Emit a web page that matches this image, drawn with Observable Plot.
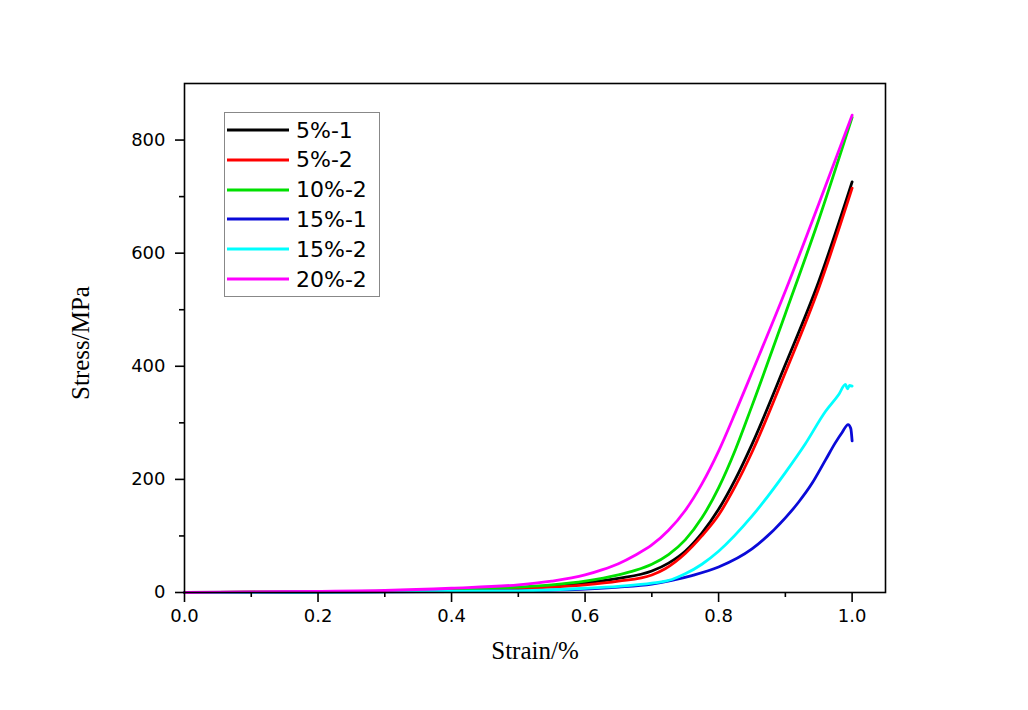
<!DOCTYPE html>
<html><head><meta charset="utf-8">
<script src="https://cdn.jsdelivr.net/npm/d3@7"></script>
<script src="https://cdn.jsdelivr.net/npm/@observablehq/plot@0.6"></script>
<style>
body{margin:0;background:#fff;}
#wrap{position:relative;width:1028px;height:710px;overflow:hidden;}
#legend{position:absolute;left:224px;top:112px;width:156px;height:185px;border:1px solid #888;box-sizing:border-box;background:#fff;font-family:"DejaVu Sans","Liberation Sans",sans-serif;font-size:22px;color:#000;}
.row{position:absolute;left:0;height:30px;display:flex;align-items:center;}
.row svg{margin-left:2px;margin-right:7px;}
</style></head><body><div id="wrap"></div>
<script>
const seriesNames = ["5%-1","5%-2","10%-2","15%-1","15%-2","20%-2"];
const seriesColors = ["#000000","#ff0000","#00e000","#0a0ad8","#00ffff","#ff00ff"];

const curve5_1 = [[0,0],[0.1,0.6],[0.2,1.2],[0.3,2],[0.4,4],[0.5,8],[0.55,11.5],[0.6,17],[0.65,25],[0.7,38],[0.725,52],[0.75,73],[0.775,105],[0.8,147],[0.825,200],[0.85,262],[0.9,403],[0.95,550],[1.0,726]];
const curve5_2 = [[0,0],[0.1,0.5],[0.2,1],[0.3,1.8],[0.4,3.5],[0.5,6.5],[0.55,9.5],[0.6,13.5],[0.65,20],[0.7,31],[0.72,42],[0.75,69],[0.775,100],[0.8,137],[0.825,188],[0.85,248],[0.9,389],[0.95,538],[1.0,715]];
const curve10_2 = [[0,0],[0.1,0.8],[0.2,1.5],[0.3,2.5],[0.4,5],[0.5,9.5],[0.55,13.5],[0.6,20],[0.65,31],[0.675,39],[0.7,50],[0.725,67],[0.75,93],[0.775,132],[0.8,185],[0.825,252],[0.85,330],[0.9,493],[0.95,659],[1.0,840]];
const curve15_1 = [[0,0],[0.1,0.3],[0.2,0.6],[0.3,1],[0.4,1.8],[0.5,3],[0.6,6],[0.65,9.5],[0.7,15],[0.73,21.5],[0.76,30],[0.8,45],[0.85,77],[0.9,132],[0.92,160],[0.94,193],[0.96,234],[0.975,265],[0.985,283],[0.994,297],[0.998,290],[1.0,268]];
const curve15_2 = [[0,0],[0.1,0.3],[0.2,0.7],[0.3,1.2],[0.4,2],[0.5,3],[0.6,7.5],[0.65,11],[0.7,16.5],[0.73,23],[0.75,33],[0.775,50],[0.8,73],[0.85,135],[0.9,212],[0.93,263],[0.96,320],[0.98,350],[0.99,368],[0.993,360],[0.996,366],[1.0,365]];
const curve20_2 = [[0,0],[0.1,1],[0.2,2],[0.3,3.5],[0.4,7.5],[0.5,13.5],[0.55,20],[0.6,31],[0.625,40],[0.65,51],[0.675,66],[0.7,84],[0.725,110],[0.75,145],[0.775,192],[0.8,250],[0.825,318],[0.85,389],[0.9,533],[0.95,687],[1.0,844]];

const xTicks = [0,0.2,0.4,0.6,0.8,1.0];
const xMinorTicks = [0.1,0.3,0.5,0.7,0.9];
const yTicks = [0,200,400,600,800];
const yMinorTicks = [100,300,500,700];
const xLabel = "Strain/%";
const yLabel = "Stress/MPa";

const curves = [curve5_1, curve5_2, curve10_2, curve15_1, curve15_2, curve20_2];
const rows = [];
curves.forEach((c, i) => c.forEach(([s, p]) => rows.push({series: seriesNames[i], strain: s, stress: p})));

const chart = Plot.plot({
  width: 1028, height: 710,
  marginLeft: 184, marginRight: 143, marginTop: 83, marginBottom: 118,
  style: {fontFamily: "'DejaVu Sans', sans-serif", fontSize: "18px", color: "#000", background: "#fff"},
  x: {domain: [0, 1.05]},
  y: {domain: [0, 900]},
  color: {domain: seriesNames, range: seriesColors},
  marks: [
    Plot.line(rows, {x: "strain", y: "stress", z: "series", stroke: "series", strokeWidth: 2.8, curve: "monotone-x"}),
    Plot.frame({stroke: "#000", strokeWidth: 1.6}),
    Plot.axisX(xTicks, {tickSize: 10, tickPadding: 7, strokeWidth: 1.6, tickFormat: d3.format(".1f"), label: null, fontSize: 18}),
    Plot.axisX(xMinorTicks, {tickSize: 5, strokeWidth: 1.6, tickFormat: () => "", label: null}),
    Plot.axisY(yTicks, {tickSize: 9, tickPadding: 10, strokeWidth: 1.6, tickFormat: d3.format("d"), label: null, fontSize: 18}),
    Plot.axisY(yMinorTicks, {tickSize: 5, strokeWidth: 1.6, tickFormat: () => "", label: null}),
    Plot.text([xLabel], {text: d => d, frameAnchor: "bottom", dy: 66, fontFamily: "'Liberation Serif', serif", fontSize: 25}),
    Plot.text([yLabel], {text: d => d, frameAnchor: "left", textAnchor: "middle", rotate: -90, dx: -104, dy: 5, fontFamily: "'Liberation Serif', serif", fontSize: 25})
  ]
});
const wrap = document.getElementById("wrap");
wrap.appendChild(chart);

const legend = document.createElement("div");
legend.id = "legend";
seriesNames.forEach((name, i) => {
  const r = document.createElement("div");
  r.className = "row";
  r.style.top = (2 + i * 29.8) + "px";
  r.innerHTML = `<svg width="62" height="6"><line x1="0" x2="62" y1="3" y2="3" stroke="${seriesColors[i]}" stroke-width="3"/></svg><span>${name}</span>`;
  legend.appendChild(r);
});
wrap.appendChild(legend);
</script></body></html>
